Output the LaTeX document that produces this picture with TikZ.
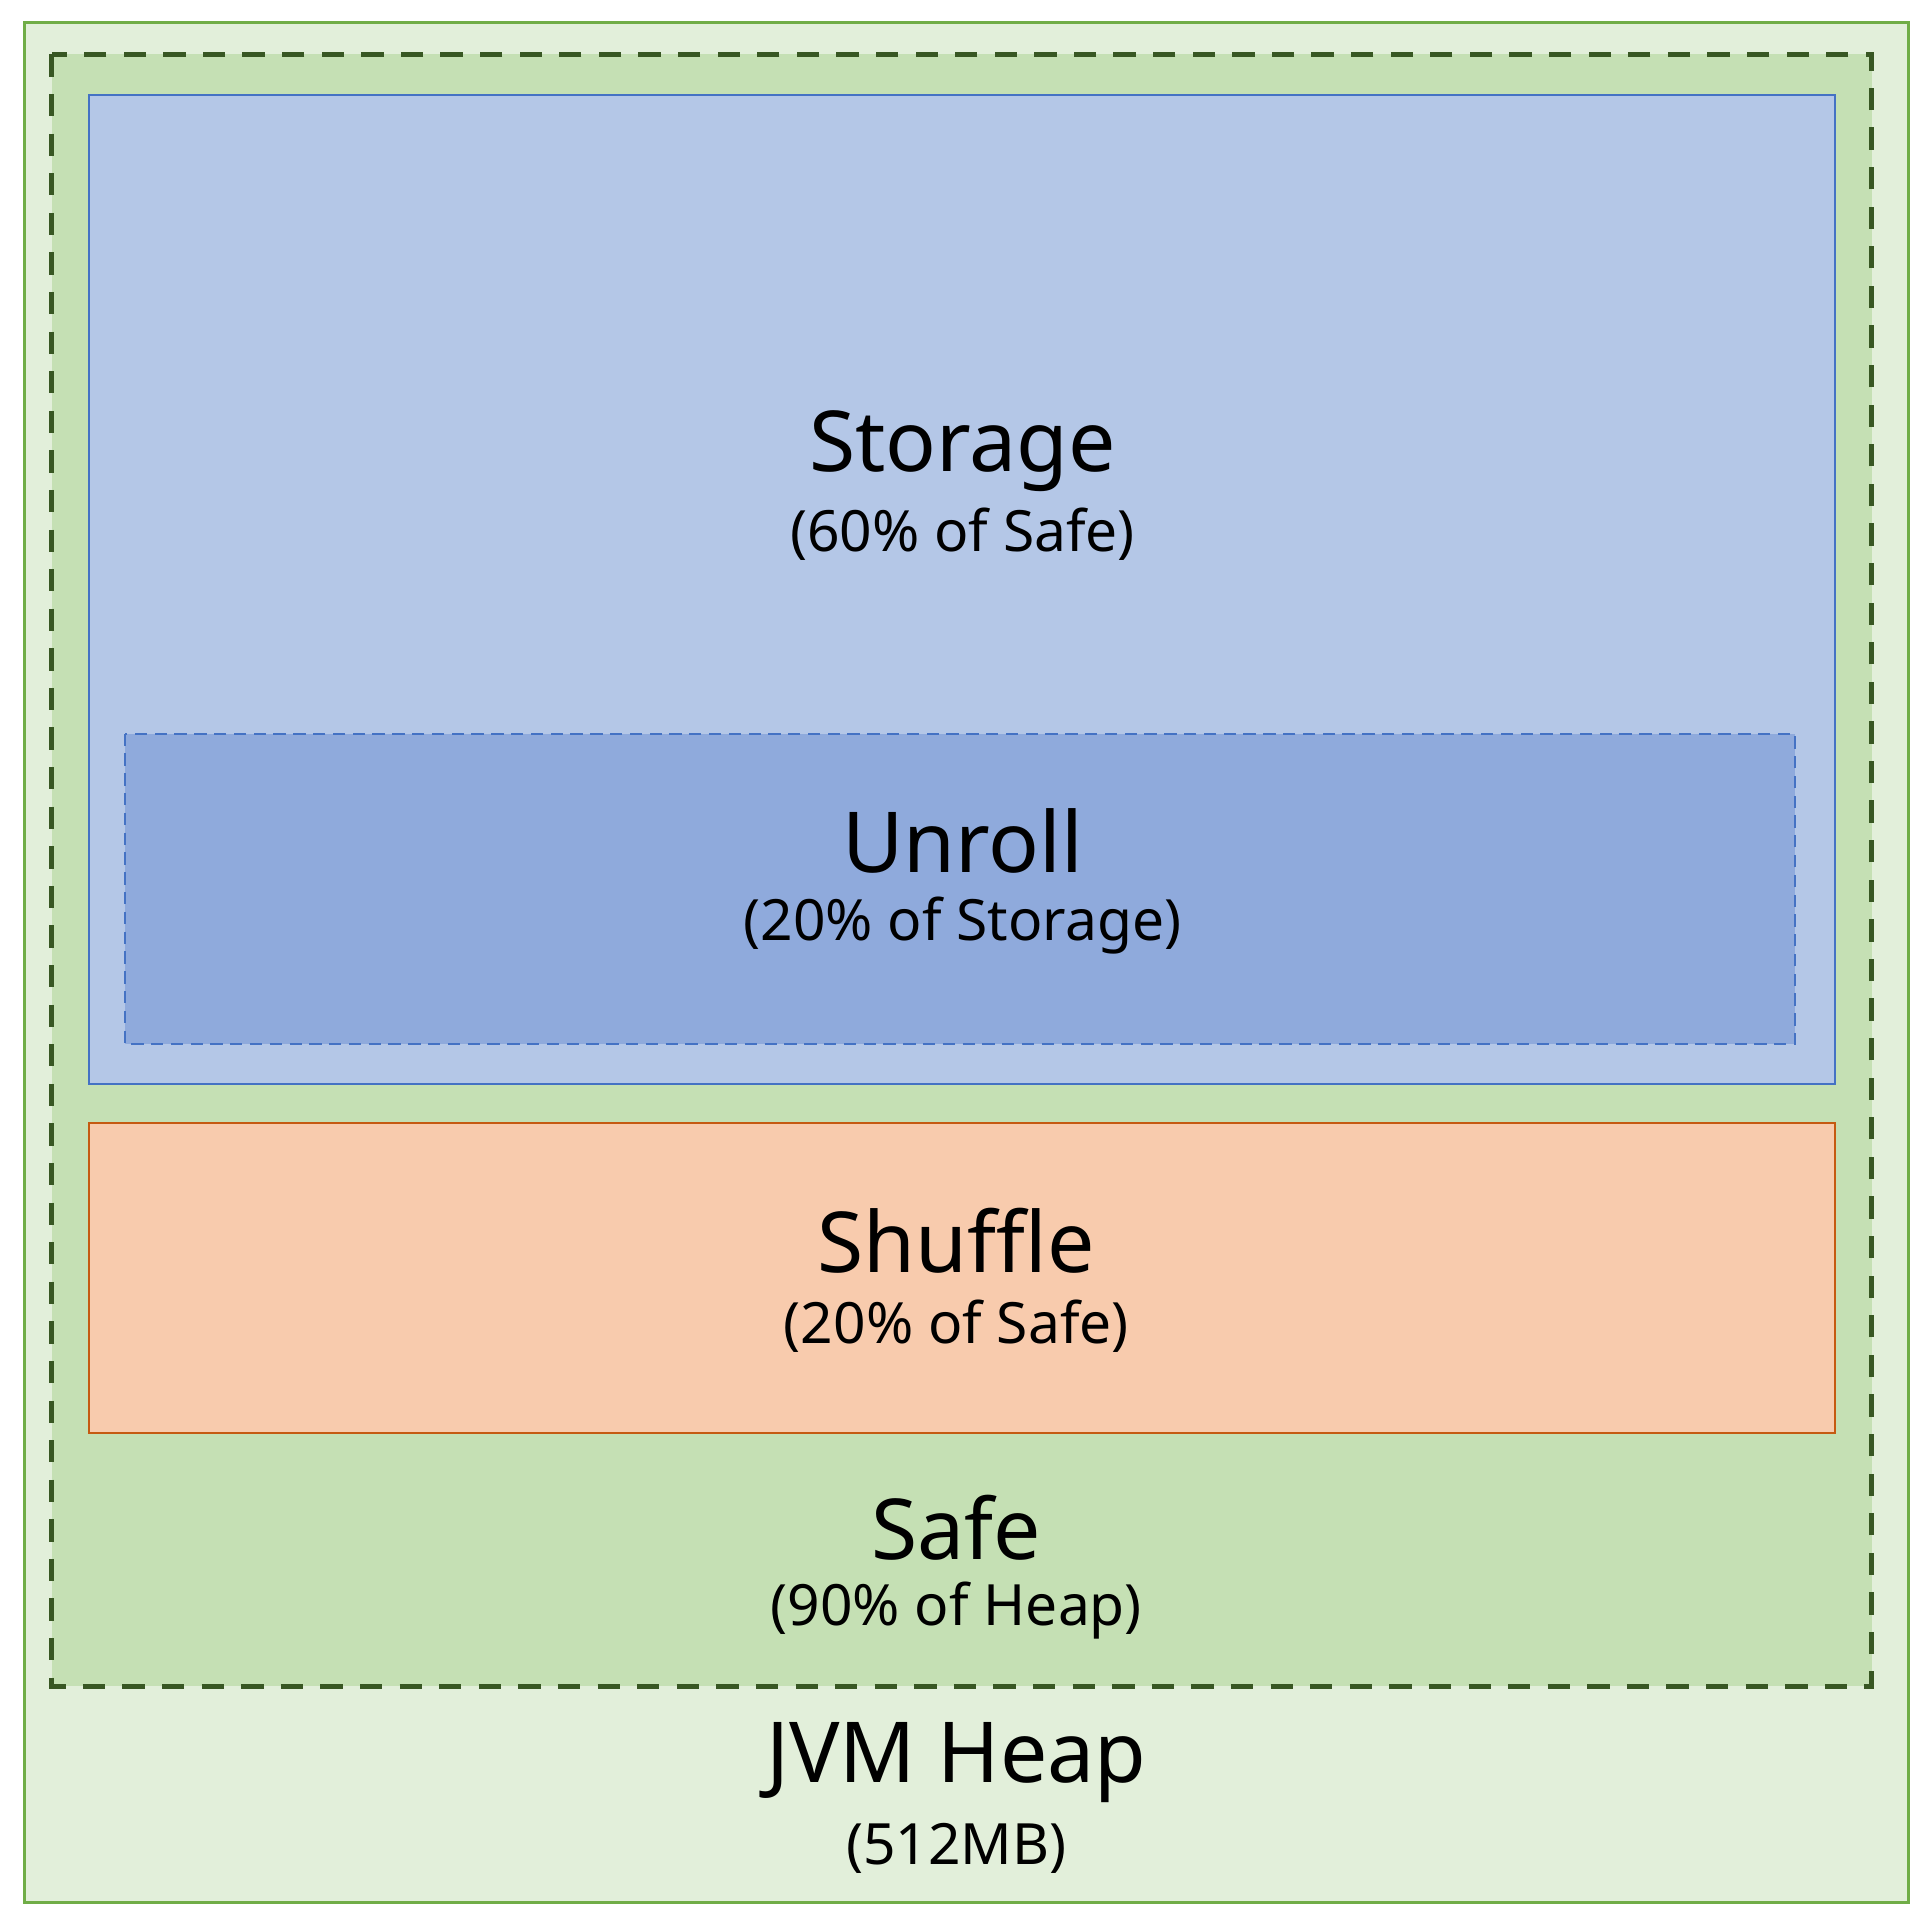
\documentclass[tikz,border=0pt]{standalone}
\usepackage{fontspec}
\setmainfont{Noto Sans}
\definecolor{heapf}{HTML}{E2EFDA}\definecolor{heapd}{HTML}{70AD47}
\definecolor{safef}{HTML}{C5E0B4}\definecolor{safed}{HTML}{385723}
\definecolor{stf}{HTML}{B4C7E7}\definecolor{std}{HTML}{4472C4}
\definecolor{unf}{HTML}{8FAADC}
\definecolor{shf}{HTML}{F8CBAD}\definecolor{shd}{HTML}{C55A11}
\begin{document}
\begin{tikzpicture}[x=0.5pt,y=-0.5pt,
 lbl/.style={align=center,font=\fontsize{34}{40}\selectfont},
 sub/.style={font=\fontsize{23}{28}\selectfont}]
\useasboundingbox (0,0) rectangle (1560,1555);
\draw[fill=heapf,draw=heapd,line width=1.2pt] (20,18) rectangle (1543,1538);
\draw[fill=safef,draw=safed,line width=2pt,dash pattern=on 9pt off 7pt] (42,44) rectangle (1513,1363);
\draw[fill=stf,draw=std,line width=0.8pt] (72,77) rectangle (1483,876);
\draw[fill=unf,draw=std,line width=0.8pt,dash pattern=on 5pt off 3pt] (101,593) rectangle (1451,844);
\draw[fill=shf,draw=shd,line width=0.8pt] (72,908) rectangle (1483,1158);
\node[lbl] (st) at (778,365) {Storage};
\node[sub] (sts) at (778,432) {(60\% of Safe)};
\node[lbl] (un) at (778,680) {Unroll};
\node[sub] (uns) at (778,748) {(20\% of Storage)};
\node[lbl] (sh) at (773,1003) {Shuffle};
\node[sub] (shs) at (773,1072) {(20\% of Safe)};
\node[lbl] (sa) at (773,1235) {Safe};
\node[sub] (sas) at (773,1302) {(90\% of Heap)};
\node[lbl] (jv) at (773,1425) {JVM Heap};
\node[sub] (jvs) at (773,1494) {(512MB)};
\end{tikzpicture}
\end{document}
